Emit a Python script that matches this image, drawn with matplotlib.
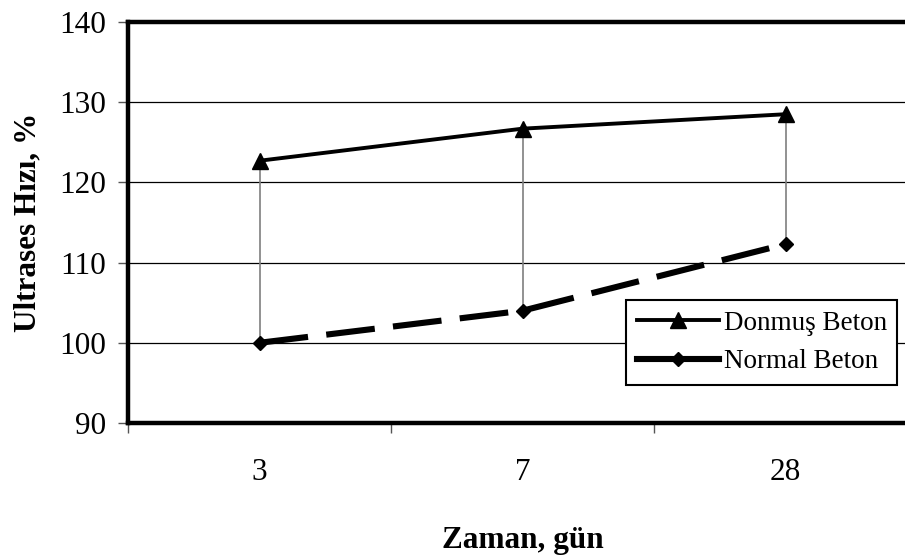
import matplotlib.pyplot as plt
from matplotlib.lines import Line2D
from matplotlib.ticker import FixedLocator

# data
days = ['3', '7', '28']
donmus = [122.7, 126.7, 128.5]
normal = [100.0, 104.0, 112.3]
yticks = [90, 100, 110, 120, 130, 140]

plt.rcParams['font.family'] = ['Liberation Serif', 'DejaVu Serif']

fig = plt.figure(figsize=(9.05, 5.59), dpi=100)
# axes runs past the right edge on purpose, like the original
ax = fig.add_axes([128 / 905, 136 / 559, 789 / 905, 401 / 559])

x = list(range(len(days)))

# high-low lines between the two series
for xi, lo, hi in zip(x, normal, donmus):
    ax.plot([xi, xi], [lo, hi], color='#7f7f7f', lw=1.2, zorder=2)

ax.plot(x, donmus, color='black', lw=2.8, marker='^', markersize=11, zorder=3)
ax.plot(x, normal, color='black', lw=4.4, ls=(0, (8, 3)), marker='D',
        markersize=7, zorder=3)

ax.set_xlim(-0.5, 2.5)
ax.set_ylim(90, 140)
ax.set_yticks(yticks)
ax.set_xticks(x)
ax.set_xticklabels(days)
ax.xaxis.set_minor_locator(FixedLocator([-0.5, 0.5, 1.5, 2.5]))

for v in yticks[1:-1]:
    ax.axhline(v, color='black', lw=0.9, zorder=1)

for side in ['left', 'top', 'bottom']:
    ax.spines[side].set_linewidth(3.2)
    ax.spines[side].set_color('black')
ax.spines['right'].set_visible(False)

ax.tick_params(axis='y', direction='out', length=7, width=1, color='#555555',
               labelsize=22.5, pad=9)
ax.tick_params(axis='x', which='major', length=0, labelsize=22.5, pad=25)
ax.tick_params(axis='x', which='minor', direction='out', length=7, width=1,
               color='#555555')

ax.set_ylabel('Ultrases Hızı, %', fontsize=22.5, fontweight='bold', labelpad=12)
ax.set_xlabel('Zaman, gün', fontsize=22.5, fontweight='bold', labelpad=28)

# legend handles drawn solid, as in the original
handles = [
    Line2D([], [], color='black', lw=2.8, marker='^', markersize=11),
    Line2D([], [], color='black', lw=4.4, marker='D', markersize=7),
]
leg = ax.legend(handles, ['Donmuş Beton', 'Normal Beton'],
                loc='upper left', bbox_to_anchor=(626 / 905, 1 - 300 / 559),
                bbox_transform=fig.transFigure, fontsize=19.5, frameon=True,
                fancybox=False, edgecolor='black', framealpha=1,
                handlelength=3.05, handletextpad=0.15, borderpad=0.4,
                labelspacing=0.5, borderaxespad=0)
leg.get_frame().set_linewidth(1.5)

plt.savefig('out.png', dpi=100)
